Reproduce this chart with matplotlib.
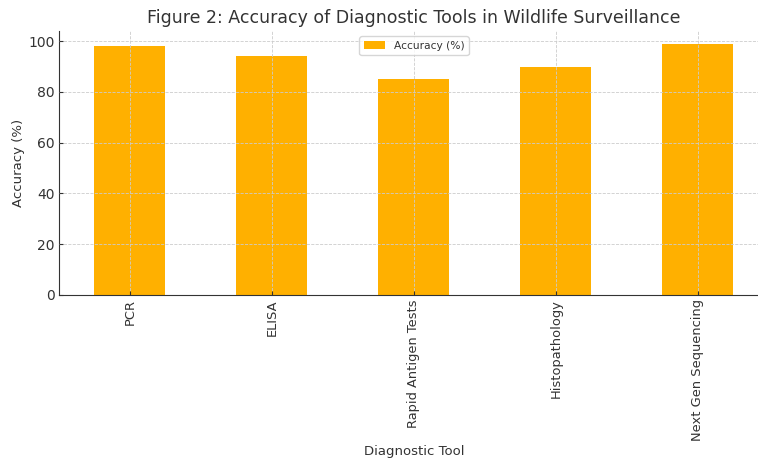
import matplotlib
matplotlib.use("Agg")
import matplotlib.pyplot as plt

tools = ["PCR", "ELISA", "Rapid Antigen Tests", "Histopathology", "Next Gen Sequencing"]
accuracy = [98, 94, 85, 90, 99]

plt.rcParams['font.family'] = ['DejaVu Sans']
plt.rcParams['text.color'] = '#333333'
plt.rcParams['axes.labelcolor'] = '#333333'
plt.rcParams['xtick.color'] = '#333333'
plt.rcParams['ytick.color'] = '#333333'

fig = plt.figure(figsize=(7.58, 4.59), dpi=100)
ax = fig.add_axes([0.0778, 0.3573, 0.9367, 0.575])

x = range(len(tools))
ax.bar(x, accuracy, width=0.5, color='#FFB000', label='Accuracy (%)', zorder=1)
ax.set_xlim(-0.5, len(tools) - 0.5)
ax.set_ylim(0, 104)
ax.set_xticks(list(x))
ax.set_xticklabels(tools, rotation=90, fontsize=9.4)
ax.tick_params(axis='y', labelsize=10)
ax.tick_params(direction='in', length=3, pad=3)
ax.grid(True, linestyle='--', color='#cccccc', linewidth=0.6, zorder=2)
ax.set_axisbelow(False)
for s in ['top', 'right']:
    ax.spines[s].set_visible(False)
for s in ['left', 'bottom']:
    ax.spines[s].set_color('#333333')

ax.set_title("Figure 2: Accuracy of Diagnostic Tools in Wildlife Surveillance", fontsize=12.5)
ax.set_xlabel("Diagnostic Tool", fontsize=9.5)
ax.xaxis.set_label_coords(0.5, -0.568)
ax.set_ylabel("Accuracy (%)", fontsize=9.5)
ax.yaxis.set_label_coords(-0.0475, 0.5)
ax.legend(loc='upper center', fontsize=7.7)

fig.savefig("out.png", dpi=100)
